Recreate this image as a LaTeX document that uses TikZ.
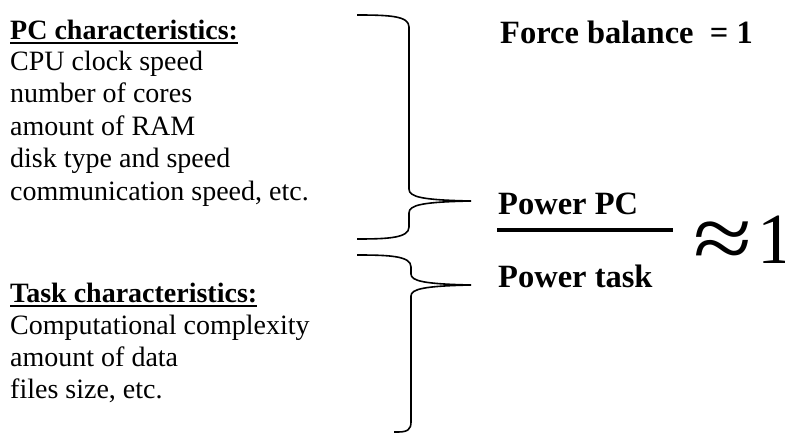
\documentclass[tikz,border=0pt]{standalone}
\usepackage{fontspec}
\setmainfont{Liberation Serif}
\begin{document}
\begin{tikzpicture}[x=1pt,y=-1pt,
  txt/.style={anchor=base west,inner sep=0pt,font=\fontsize{28}{32}\selectfont},
  btxt/.style={anchor=base west,inner sep=0pt,font=\fontsize{32.5}{36}\selectfont\bfseries},
  uline/.style={line width=1.6pt},
  brace/.style={line width=1.6pt}]
\useasboundingbox (0,0) rectangle (785,434);
% left texts
\node[txt] (pch) at (10,39) {\bfseries PC characteristics:};
\node[txt] (p1) at (10,70) {CPU clock speed};
\node[txt] (p2) at (10,102) {number of cores};
\node[txt] (p3) at (10,135) {amount of RAM};
\node[txt] (p4) at (10,167) {disk type and speed};
\node[txt] (p5) at (10,200) {communication speed, etc.};
\node[txt] (tch) at (10,302) {\bfseries Task characteristics:};
\node[txt] (t1) at (10,334) {Computational complexity};
\node[txt] (t2) at (10,366) {amount of data};
\node[txt] (t3) at (10,398) {files size, etc.};
\draw[uline] ([yshift=-4pt]pch.base west) -- ([yshift=-4pt]pch.base east);
\draw[uline] ([yshift=-4pt]tch.base west) -- ([yshift=-4pt]tch.base east);
% right texts
\node[btxt] (fb) at (500,43) {Force balance \ = 1};
\node[btxt] (ppc) at (498,214) {Power PC};
\node[btxt] (ptask) at (498,287) {Power task};
\coordinate (fl) at (497,230);
\coordinate (fr) at (673,230);
\draw[line width=4pt] (fl) -- (fr);
\node[inner sep=0pt,font=\fontsize{74}{76}\selectfont,xscale=1.45,yscale=1.25] (approx) at (723,246) {≈};
\node[anchor=base west,inner sep=0pt,font=\fontsize{72}{74}\selectfont] (one) at (757,263) {1};
% braces
\coordinate (b1tip) at (471,201);
\coordinate (b2tip) at (471,285);
\draw[brace] (357,15) .. controls (390,15) and (409,16) .. (409,27)
  -- (409,189) .. controls (409,197) and (422,200) .. (b1tip);
\draw[brace] (b1tip) .. controls (422,202) and (409,205) .. (409,213)
  -- (409,227) .. controls (409,238) and (388,239) .. (357,239);
\draw[brace] (357,255) .. controls (390,255) and (411,256) .. (411,267)
  -- (411,274) .. controls (411,281) and (424,284) .. (b2tip);
\draw[brace] (b2tip) .. controls (424,286) and (411,289) .. (411,296)
  -- (411,422) .. controls (411,429) and (408,432) .. (398,432) -- (394,432);
\end{tikzpicture}
\end{document}
